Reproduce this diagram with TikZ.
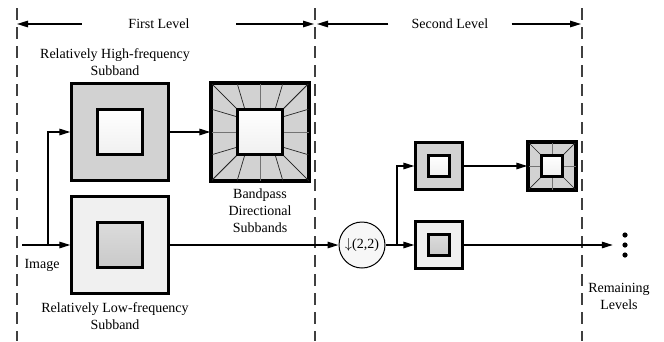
\documentclass[tikz,border=0pt]{standalone}
\usepackage{fontspec}
\setmainfont{Liberation Serif}
\usetikzlibrary{arrows.meta}

\tikzset{
  levelline/.style={dash pattern=on 12pt off 7pt, line width=1.6pt, black!75},
  flow/.style={-{Triangle[length=11pt,width=6.5pt]}, line width=1.4pt},
  band/.style={draw, line width=2.4pt, minimum size=97pt, inner sep=0pt},
  core/.style={draw, line width=2.4pt, minimum size=45pt, inner sep=0pt},
  sband/.style={band, minimum size=47pt},
  score/.style={core, minimum size=21pt},
  highfill/.style={fill=gray!35},
  lowfill/.style={fill=gray!12},
  whitecore/.style={top color=white, bottom color=gray!12},
  graycore/.style={top color=gray!28, bottom color=gray!42},
  lbl/.style={align=center, inner sep=0pt, font=\fontsize{14}{17}\selectfont},
  fan/.style={line width=0.7pt, black!85},
  midfan/.style={line width=1pt, gray!90!black}
}

\begin{document}
\begin{tikzpicture}[x=1pt,y=-1pt]
  \useasboundingbox (0,0) rectangle (664,341);

  % level borders
  \draw[levelline] (17,8) -- (17,341);
  \draw[levelline] (315,8) -- (315,341);
  \draw[levelline] (582,8) -- (582,341);

  \coordinate (b0) at (17,24);
  \coordinate (b1l) at (314,24);
  \coordinate (b1r) at (317,24);
  \coordinate (b2) at (581,24);
  \node[lbl, minimum width=154pt] (lv1) at (159,24) {First Level};
  \node[lbl, minimum width=123pt] (lv2) at (450,24) {Second Level};
  \draw[flow] (lv1.west) -- (b0);
  \draw[flow] (lv1.east) -- (b1l);
  \draw[flow] (lv2.west) -- (b1r);
  \draw[flow] (lv2.east) -- (b2);

  % first level
  \node[band, highfill] (hi) at (120,132) {};
  \node[core, whitecore] (hi-c) at (hi.center) {};
  \node[band, highfill] (dir) at (260,132) {};
  \foreach \r in {0,90,180,270}{
    \foreach \si/\so in {-1/-1,-0.67/-0.47,0.67/0.47,1/1}
      \draw[fan, shift={(dir.center)}, rotate=\r] (\si*22.5,22.5) -- (\so*48.5,48.5);
    \draw[midfan, shift={(dir.center)}, rotate=\r] (0,22.5) -- (0,48.5);
  }
  \draw[line width=2.4pt] (dir.north west) rectangle (dir.south east);
  \node[core, whitecore] (dir-c) at (dir.center) {};
  \node[band, lowfill] (lo) at (120,245) {};
  \node[core, graycore] (lo-c) at (lo.center) {};

  \node[lbl] (hi-t) at (115,62) {Relatively High-frequency\\Subband};
  \node[lbl] (dir-t) at (260,211) {Bandpass\\Directional\\Subbands};
  \node[lbl] (lo-t) at (115,316) {Relatively Low-frequency\\Subband};
  \node[lbl] (img) at (42,265) {Image};

  \coordinate (src) at (22,245);
  \coordinate (split1) at (48,245);
  \draw[flow] (src) -- (lo);
  \draw[flow] (split1) |- (hi);
  \draw[flow] (hi) -- (dir);

  % downsampling
  \node[circle, draw, line width=1pt, fill=gray!6, minimum size=46pt, inner sep=0pt,
        font=\fontsize{14}{17}\selectfont] (ds) at (362,245) {$\downarrow$(2,2)};
  \draw[flow] (lo) -- (ds);

  % second level
  \node[sband, highfill] (hi2) at (439,166) {};
  \node[score, whitecore] (hi2-c) at (hi2.center) {};
  \node[sband, highfill] (dir2) at (552,166) {};
  \foreach \r in {0,90,180,270}{
    \draw[fan, shift={(dir2.center)}, rotate=\r] (10.5,10.5) -- (23.5,23.5);
    \draw[midfan, shift={(dir2.center)}, rotate=\r] (0,10.5) -- (0,23.5);
  }
  \draw[line width=2.4pt] (dir2.north west) rectangle (dir2.south east);
  \node[score, whitecore] (dir2-c) at (dir2.center) {};
  \node[sband, lowfill] (lo2) at (439,245) {};
  \node[score, graycore] (lo2-c) at (lo2.center) {};

  \coordinate (split2) at (397,245);
  \draw[line width=1.4pt] (ds) -- (split2);
  \draw[flow] (split2) |- (hi2);
  \draw[flow] (split2) -- (lo2);
  \draw[flow] (hi2) -- (dir2);

  \node[minimum width=24pt, inner sep=0pt] (more) at (625,245) {};
  \foreach \dy in {-10,0,10}
    \fill ([yshift=\dy*1pt]more.center) circle (2.6pt);
  \draw[flow] (lo2) -- (more);
  \node[lbl] (more-t) at (619,296) {Remaining\\Levels};
\end{tikzpicture}
\end{document}
